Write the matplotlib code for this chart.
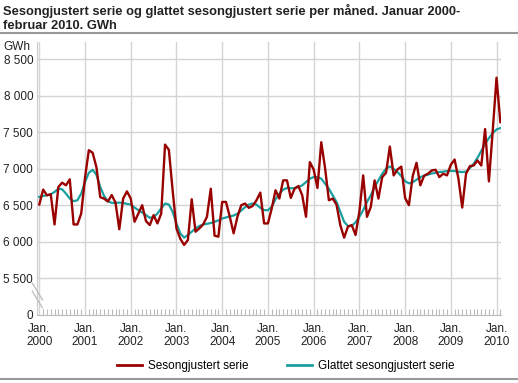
import matplotlib
matplotlib.use("Agg")
import matplotlib.pyplot as plt
import matplotlib.transforms as mtransforms
from matplotlib.lines import Line2D
import numpy as np

plt.rcParams['font.family'] = ['Liberation Sans', 'DejaVu Sans']

# Monthly values, Jan 2000 - Feb 2010 (GWh)
sesongjustert = [
    6510, 6714, 6636, 6650, 6236, 6750, 6809, 6773, 6855, 6236, 6236, 6386,  # 2000
    6880, 7255, 7220, 7020, 6610, 6590, 6550, 6640, 6535, 6170, 6590, 6690,  # 2001
    6591, 6273, 6386, 6500, 6282, 6227, 6364, 6250, 6386, 7332, 7260, 6700,  # 2002
    6180, 6040, 5955, 6023, 6582, 6136, 6182, 6236, 6341, 6727, 6082, 6068,  # 2003
    6545, 6545, 6340, 6114, 6341, 6500, 6523, 6464, 6490, 6568, 6673, 6250,  # 2004
    6250, 6455, 6705, 6591, 6841, 6841, 6600, 6727, 6764, 6636, 6341, 7091,  # 2005
    6990, 6736, 7364, 7010, 6568, 6591, 6509, 6227, 6055, 6205, 6227, 6091,  # 2006
    6409, 6909, 6341, 6477, 6841, 6591, 6886, 6945, 7305, 6909, 6990, 7030,  # 2007
    6600, 6500, 6900, 7082, 6773, 6905, 6932, 6977, 6986, 6886, 6932, 6909,  # 2008
    7055, 7127, 6864, 6468, 6932, 7036, 7045, 7114, 7045, 7545, 6827, 7520,  # 2009
    8250, 7640,                                                              # 2010
]
glattet = [
    6614, 6627, 6636, 6650, 6682, 6727, 6718, 6659, 6591, 6555, 6568, 6659,
    6818, 6945, 6986, 6918, 6750, 6627, 6555, 6532, 6532, 6536, 6532, 6518,
    6509, 6468, 6432, 6400, 6364, 6327, 6336, 6386, 6455, 6523, 6509, 6409,
    6250, 6114, 6055, 6091, 6136, 6182, 6214, 6236, 6245, 6255, 6273, 6291,
    6318, 6332, 6345, 6359, 6382, 6427, 6473, 6509, 6523, 6509, 6464, 6432,
    6432, 6477, 6582, 6659, 6714, 6736, 6732, 6736, 6750, 6773, 6818, 6864,
    6886, 6886, 6864, 6795, 6727, 6636, 6545, 6409, 6273, 6214, 6218, 6264,
    6341, 6432, 6545, 6636, 6750, 6841, 6932, 7000, 7032, 7000, 6955, 6900,
    6830, 6800, 6815, 6850, 6885, 6905, 6920, 6935, 6945, 6955, 6960, 6968,
    6972, 6968, 6960, 6955, 6960, 7010, 7070, 7150, 7245, 7345, 7420, 7490,
    7540, 7558,
]
years = list(range(2000, 2011))
y_ticks = [5000, 5500, 6000, 6500, 7000, 7500, 8000, 8500]
y_labels = ['0', '5 500', '6 000', '6 500', '7 000', '7 500', '8 000', '8 500']

RED = '#990000'
TEAL = '#1a9e9e'
GRID = '#d4d4d4'

months = np.arange(len(sesongjustert))

fig = plt.figure(figsize=(5.18, 3.83), dpi=100)
ax = fig.add_axes([37.4 / 518, 1 - 314.5 / 383, (501.1 - 37.4) / 518, (314.5 - 42) / 383])

ax.plot(months, glattet, color=TEAL, lw=1.6, zorder=3)
ax.plot(months, sesongjustert, color=RED, lw=1.7, zorder=4)

ax.set_xlim(-0.5, 121.2)
ax.set_ylim(5000, 8740)

# y axis
ax.set_yticks(y_ticks)
ax.set_yticklabels(y_labels, fontsize=8.5, color='#222222')
ax.tick_params(axis='y', length=0, pad=3)
for v in y_ticks[1:]:
    ax.axhline(v, color=GRID, lw=1.0, zorder=1)

# x axis
jan_pos = [12 * (y - 2000) for y in years]
ax.set_xticks(jan_pos)
ax.set_xticklabels(['Jan.\n' + str(y) for y in years], fontsize=8.5,
                   color='#222222', linespacing=1.15)
ax.set_xticks(months, minor=True)
ax.tick_params(axis='x', which='major', length=0, pad=6)
ax.tick_params(axis='x', which='minor', direction='in', length=4,
               color='#bbbbbb', width=0.8)
for p in jan_pos:
    ax.axvline(p, color=GRID, lw=1.0, zorder=1)

for side in ['top', 'right']:
    ax.spines[side].set_visible(False)
ax.spines['bottom'].set_color('#bbbbbb')
ax.spines['left'].set_color('#cccccc')

# axis break marks between 0 and 5 500
tr = mtransforms.blended_transform_factory(ax.transAxes, ax.transData)
for off in (0, 110):
    ax.add_line(Line2D([-0.011, 0.011], [5430 - off, 5200 - off], transform=tr,
                       color='#bbbbbb', lw=0.9, clip_on=False, zorder=5))

# title, unit label and separator lines
fig.text(3 / 518, 1 - 4 / 383,
         'Sesongjustert serie og glattet sesongjustert serie per måned. Januar 2000-\nfebruar 2010. GWh',
         fontsize=9.3, fontweight='bold', va='top', ha='left', color='#222222',
         linespacing=1.25)
fig.add_artist(Line2D([0, 1], [1 - 33 / 383, 1 - 33 / 383], transform=fig.transFigure,
                      color='#999999', lw=1.5))
fig.add_artist(Line2D([0, 1], [1 - 378.5 / 383, 1 - 378.5 / 383], transform=fig.transFigure,
                      color='#999999', lw=1.5))
fig.text(3 / 518, 1 - 47 / 383, 'GWh', fontsize=8.5, va='center', ha='left', color='#222222')

handles = [Line2D([], [], color=RED, lw=2), Line2D([], [], color=TEAL, lw=2)]
fig.legend(handles, ['Sesongjustert serie', 'Glattet sesongjustert serie'],
           loc='center', bbox_to_anchor=(286 / 518, 1 - 366 / 383), ncol=2,
           frameon=False, fontsize=8.5, handlelength=2.1, columnspacing=3.3,
           handletextpad=0.5)

fig.savefig('out.png', dpi=100)
